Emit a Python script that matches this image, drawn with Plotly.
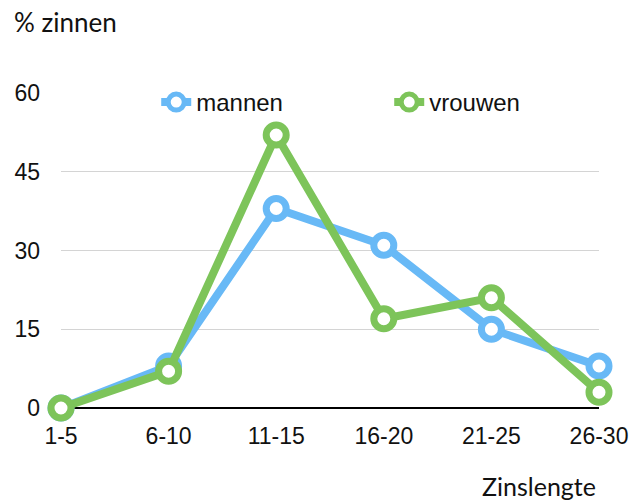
import plotly.graph_objects as go

categories = ["1-5", "6-10", "11-15", "16-20", "21-25", "26-30"]
mannen = [0, 8, 38, 31, 15, 8]
vrouwen = [0, 7, 52, 17, 21, 3]
y_ticks = [0, 15, 30, 45, 60]

blue = "#68B9F6"
green = "#7DC45A"

fig = go.Figure()
for name, vals, col in [("mannen", mannen, blue), ("vrouwen", vrouwen, green)]:
    fig.add_trace(go.Scatter(
        x=list(range(len(categories))), y=vals, name=name, mode="lines+markers",
        line=dict(color=col, width=8),
        marker=dict(size=20, color="white", line=dict(color=col, width=7)),
        cliponaxis=False,
    ))

fig.update_layout(
    width=632, height=502,
    margin=dict(l=61, r=33, t=93, b=94, autoexpand=False),
    plot_bgcolor="white", paper_bgcolor="white",
    font=dict(family="Liberation Sans, Arial, sans-serif", size=23, color="#111"),
    showlegend=True,
    legend=dict(orientation="h", x=0.177, xanchor="left", y=0.97, yanchor="middle",
                font=dict(size=24), entrywidth=188, entrywidthmode="pixels",
                bgcolor="rgba(0,0,0,0)"),
    xaxis=dict(tickmode="array", tickvals=list(range(len(categories))), ticktext=categories,
               range=[0, len(categories) - 1], showgrid=False, zeroline=False,
               showline=False, ticks="", ticklabelstandoff=12, automargin=False),
    yaxis=dict(tickmode="array", tickvals=y_ticks, range=[0, 60], showgrid=True,
               gridcolor="#d4d4d4", gridwidth=1, zeroline=True, zerolinecolor="black",
               zerolinewidth=2, ticks="", showline=False, ticklabelstandoff=20, automargin=False),
    annotations=[
        dict(text="% zinnen", xref="paper", yref="paper", x=-0.091, y=1.225, xanchor="left",
             yanchor="middle", showarrow=False, font=dict(family="Lato, Open Sans, sans-serif", size=26)),
        dict(text="Zinslengte", xref="paper", yref="paper", x=0.998, y=-0.247, xanchor="right",
             yanchor="middle", showarrow=False, font=dict(family="Lato, Open Sans, sans-serif", size=25)),
    ],
)
fig.write_html("out.html", config={"displayModeBar": False},
               post_script="document.body.style.margin='0';document.documentElement.style.overflow='hidden';")
